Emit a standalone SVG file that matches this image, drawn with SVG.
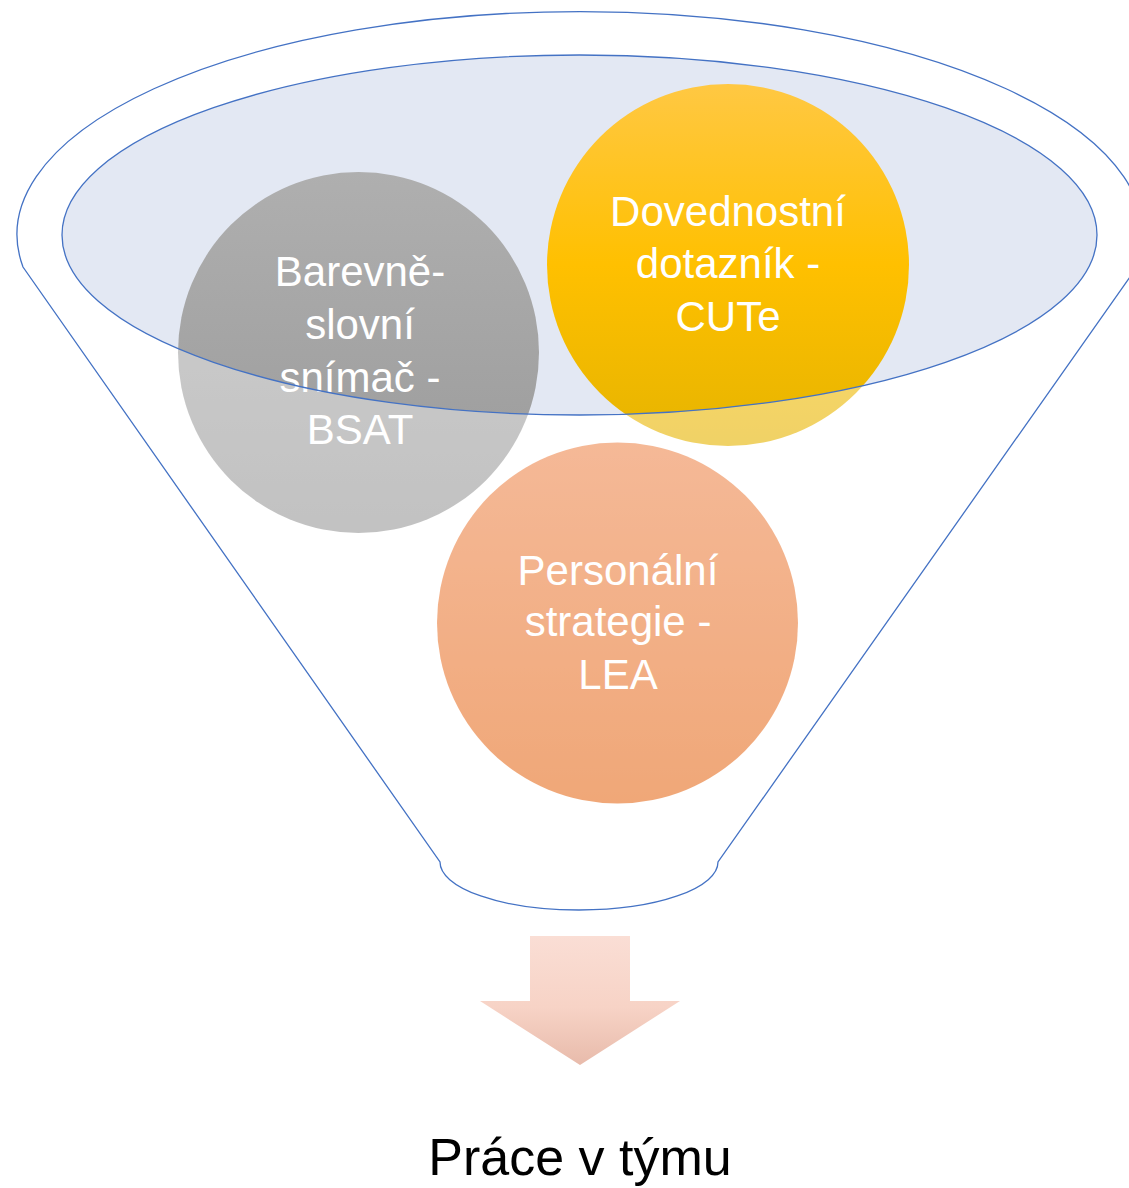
<svg xmlns="http://www.w3.org/2000/svg" width="1129" height="1188" viewBox="0 0 1129 1188">
  <defs>
    <linearGradient id="gGray" x1="0" y1="0" x2="0" y2="1">
      <stop offset="0" stop-color="#AFAFAF"/>
      <stop offset="1" stop-color="#999999"/>
    </linearGradient>
    <linearGradient id="gYellow" x1="0" y1="0" x2="0" y2="1">
      <stop offset="0" stop-color="#FFC843"/>
      <stop offset="0.5" stop-color="#FFC000"/>
      <stop offset="1" stop-color="#E6B400"/>
    </linearGradient>
    <linearGradient id="gOrange" x1="0" y1="0" x2="0" y2="1">
      <stop offset="0" stop-color="#EE8A52"/>
      <stop offset="1" stop-color="#E66D1E"/>
    </linearGradient>
    <linearGradient id="gArrow" x1="0" y1="0" x2="0" y2="1">
      <stop offset="0" stop-color="#FADED5"/>
      <stop offset="0.55" stop-color="#F7D3C6"/>
      <stop offset="1" stop-color="#E8BBAB"/>
    </linearGradient>
    <style>
      .ln { fill: none; stroke: #4472C4; stroke-width: 1.3; }
      .lbl { font-family: "Liberation Sans", Arial, sans-serif; font-size: 42px; fill: #FFFFFF; text-anchor: middle; }
      .out { font-family: "Liberation Sans", Arial, sans-serif; font-size: 52px; fill: #000000; text-anchor: middle; }
    </style>
  </defs>

  <rect x="0" y="0" width="1129" height="1188" fill="#FFFFFF"/>

  <g id="funnel-opening">
    <ellipse cx="579.5" cy="235" rx="517.5" ry="180" fill="#E3E8F3"/>
  </g>

  <g id="node-bsat">
    <circle cx="358.5" cy="352.5" r="180.5" fill="url(#gGray)"/>
    <text class="lbl" x="360" y="286">Barevně-</text>
    <text class="lbl" x="360" y="339">slovní</text>
    <text class="lbl" x="360" y="392">snímač -</text>
    <text class="lbl" x="360" y="444">BSAT</text>
  </g>

  <g id="node-cute">
    <circle cx="728" cy="265" r="181" fill="url(#gYellow)"/>
    <text class="lbl" x="728" y="226">Dovednostní</text>
    <text class="lbl" x="728" y="278">dotazník -</text>
    <text class="lbl" x="728" y="331">CUTe</text>
  </g>

  <g id="node-lea">
    <circle cx="617.5" cy="623" r="180.5" fill="url(#gOrange)"/>
    <text class="lbl" x="618" y="585">Personální</text>
    <text class="lbl" x="618" y="636">strategie -</text>
    <text class="lbl" x="618" y="689">LEA</text>
  </g>

  <g id="funnel">
    <path fill="#FFFFFF" fill-opacity="0.4" fill-rule="evenodd"
      d="M 23 267 A 563 223 0 1 1 1137 267 L 718 862 A 139 48 0 0 1 440 862 Z
         M 62 235 A 517.5 180 0 1 0 1097 235 A 517.5 180 0 1 0 62 235 Z"/>
    <path class="ln" d="M 23 267 A 563 223 0 1 1 1137 267 L 718 862 A 139 48 0 0 1 440 862 Z"/>
    <ellipse class="ln" cx="579.5" cy="235" rx="517.5" ry="180"/>
  </g>

  <g id="connectors">
    <polygon points="530,936 630,936 630,1001 680,1001 580,1065 480,1001 530,1001" fill="url(#gArrow)"/>
  </g>

  <g id="node-result">
    <text class="out" x="580" y="1175">Práce v týmu</text>
  </g>
</svg>
